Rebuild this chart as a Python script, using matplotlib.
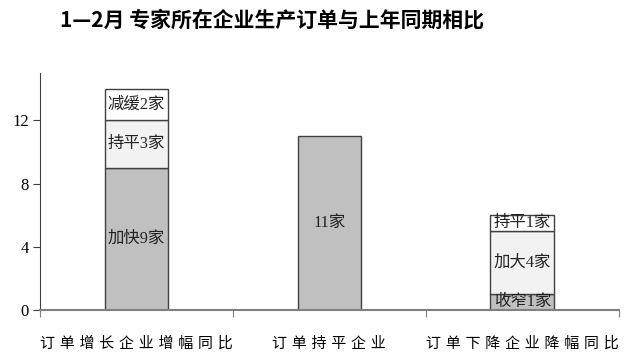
import numpy as np
import matplotlib.pyplot as plt

plt.rcParams['font.family'] = ['Noto Sans CJK SC', 'DejaVu Sans']

categories = ['订单增长企业增幅同比', '订单持平企业', '订单下降企业降幅同比']
# stacked segments: bottom, middle, top
seg_bottom = [9, 11, 1]
seg_middle = [3, 0, 4]
seg_top = [2, 0, 1]
lab_bottom = ['加快9家', '11家', '收窄1家']
lab_middle = ['持平3家', '', '加大4家']
lab_top = ['减缓2家', '', '持平1家']

fig = plt.figure(figsize=(6.25, 3.6), dpi=100)
ax = fig.add_axes([0.064, 0.139, 0.926, 0.658])

x = np.arange(len(categories))
w = 0.33
edge = '#404040'
b1 = ax.bar(x, seg_bottom, w, color='#c0c0c0', edgecolor=edge, linewidth=1)
m = np.array(seg_middle)
b2 = ax.bar(x[m > 0], m[m > 0], w, bottom=np.array(seg_bottom)[m > 0],
            color='#f2f2f2', edgecolor=edge, linewidth=1)
t = np.array(seg_top)
b3 = ax.bar(x[t > 0], t[t > 0], w, bottom=(np.array(seg_bottom) + m)[t > 0],
            color='white', edgecolor=edge, linewidth=1)

for i in range(len(x)):
    y0 = 0
    for val, lab in zip([seg_bottom[i], seg_middle[i], seg_top[i]],
                        [lab_bottom[i], lab_middle[i], lab_top[i]]):
        if val > 0:
            ax.text(x[i], y0 + val / 2, lab, ha='center', va='center',
                    fontsize=11.8, color='#222222',
                    family=['Liberation Serif', 'Noto Sans CJK SC'])
        y0 += val

ax.set_xlim(-0.5, 2.5)
ax.set_ylim(0, 15)
ax.set_yticks([0, 4, 8, 12])
ax.set_yticklabels(['0', '4', '8', '12'], family='Liberation Serif', fontsize=12)
ax.set_xticks([-0.5, 0.5, 1.5, 2.5])
ax.set_xticklabels([])
ax.tick_params(axis='x', direction='out', length=5, color='#808080')
ax.tick_params(axis='y', direction='out', length=5, color='#404040', pad=3)
for i, c in enumerate(categories):
    ax.text(x[i], -2.1, ' '.join(c), ha='center', va='center', fontsize=10.8,
            color='black', family=['DejaVu Sans', 'Noto Sans CJK SC'])

ax.spines['top'].set_visible(False)
ax.spines['right'].set_visible(False)
ax.spines['bottom'].set_color('#808080')
ax.spines['bottom'].set_linewidth(1.5)
ax.spines['left'].set_color('#404040')

fig.text(0.435, 0.945, '1—2月 专家所在企业生产订单与上年同期相比', ha='center', va='center',
         fontsize=15, fontweight='heavy')

fig.savefig('out.png', dpi=100)
